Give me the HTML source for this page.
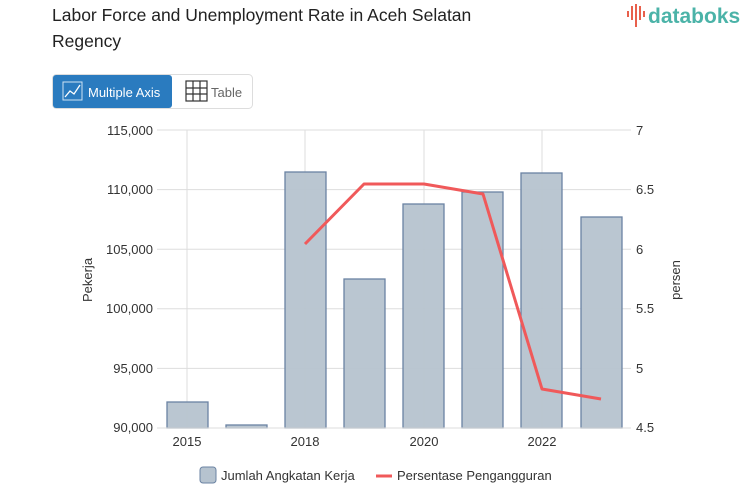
<!DOCTYPE html>
<html><head><meta charset="utf-8"><style>
body{margin:0;background:#fff;width:753px;height:498px;overflow:hidden;font-family:"Liberation Sans",sans-serif;}
</style></head><body>
<svg width="753" height="498" xmlns="http://www.w3.org/2000/svg" font-family="Liberation Sans, sans-serif">
<text x="52" y="21" font-size="17.5" fill="#222">Labor Force and Unemployment Rate in Aceh Selatan</text>
<text x="52" y="47" font-size="17.5" fill="#222">Regency</text>
<!-- logo -->
<g fill="#e8604c">
<rect x="627" y="11" width="2" height="6"/><rect x="631" y="6" width="2" height="14"/><rect x="635" y="4" width="2" height="23"/><rect x="639" y="6" width="2" height="14"/><rect x="643" y="11" width="2" height="6"/>
</g>
<text x="648" y="23" font-size="21" fill="#4bb3a8" font-weight="bold">databoks</text>
<!-- buttons -->
<rect x="52.5" y="74.5" width="200" height="34" rx="4" fill="#fff" stroke="#ddd"/>
<rect x="53" y="75" width="119" height="33" rx="3" fill="#2a7bbf"/>
<rect x="63" y="82" width="19" height="18" fill="none" stroke="#cfe3f3" stroke-width="1"/>
<path d="M65 97 L70 91 L74 94 L80 85" stroke="#fff" fill="none" stroke-width="1.3"/>
<text x="88" y="97" font-size="13" fill="#fff">Multiple Axis</text>
<g stroke="#333" stroke-width="1.2" fill="none"><rect x="186" y="81" width="21" height="20"/><line x1="193" y1="81" x2="193" y2="101"/><line x1="200" y1="81" x2="200" y2="101"/><line x1="186" y1="88" x2="207" y2="88"/><line x1="186" y1="94" x2="207" y2="94"/></g>
<text x="211" y="97" font-size="13" fill="#666">Table</text>
<!-- grid -->
<g stroke="#ddd" stroke-width="1">
<line x1="157" y1="130" x2="631" y2="130"/><line x1="157" y1="189.6" x2="631" y2="189.6"/><line x1="157" y1="249.2" x2="631" y2="249.2"/><line x1="157" y1="308.8" x2="631" y2="308.8"/><line x1="157" y1="368.4" x2="631" y2="368.4"/>
<line x1="187" y1="130" x2="187" y2="428"/><line x1="305" y1="130" x2="305" y2="428"/><line x1="424" y1="130" x2="424" y2="428"/><line x1="542" y1="130" x2="542" y2="428"/>
</g>
<g font-size="13" fill="#333" text-anchor="end">
<text x="153" y="135">115,000</text><text x="153" y="194">110,000</text><text x="153" y="254">105,000</text><text x="153" y="313">100,000</text><text x="153" y="373">95,000</text><text x="153" y="432">90,000</text>
</g>
<g font-size="13" fill="#333">
<text x="636" y="135">7</text><text x="636" y="194">6.5</text><text x="636" y="254">6</text><text x="636" y="313">5.5</text><text x="636" y="373">5</text><text x="636" y="432">4.5</text>
</g>
<text transform="translate(92,280) rotate(-90)" font-size="13" fill="#333" text-anchor="middle">Pekerja</text>
<text transform="translate(680,280) rotate(-90)" font-size="13" fill="#333" text-anchor="middle">persen</text>
<!-- bars -->
<g fill="#b6c3cf" stroke="#6b83a3" stroke-width="1.3" fill-opacity="0.95">
<rect x="167" y="402" width="41" height="26"/>
<rect x="226" y="425" width="41" height="3"/>
<rect x="285" y="172" width="41" height="256"/>
<rect x="344" y="279" width="41" height="149"/>
<rect x="403" y="204" width="41" height="224"/>
<rect x="462" y="192" width="41" height="236"/>
<rect x="521" y="173" width="41" height="255"/>
<rect x="581" y="217" width="41" height="211"/>
</g>
<line x1="157" y1="428" x2="631" y2="428" stroke="#ddd"/>
<g stroke="#fff" stroke-opacity="0"></g>
<polyline points="305,244 364,184 424,184 483,194 542,389 601,399" fill="none" stroke="#f0595a" stroke-width="3" stroke-linejoin="round"/>
<g font-size="13" fill="#333" text-anchor="middle">
<text x="187" y="446">2015</text><text x="305" y="446">2018</text><text x="424" y="446">2020</text><text x="542" y="446">2022</text>
</g>
<rect x="200" y="467" width="16" height="16" rx="3" fill="#b6c3cf" stroke="#6b83a3"/>
<text x="221" y="480" font-size="13" fill="#333">Jumlah Angkatan Kerja</text>
<line x1="376" y1="476" x2="392" y2="476" stroke="#f0595a" stroke-width="3"/>
<text x="397" y="480" font-size="13" fill="#333">Persentase Pengangguran</text>
</svg>
</body></html>
